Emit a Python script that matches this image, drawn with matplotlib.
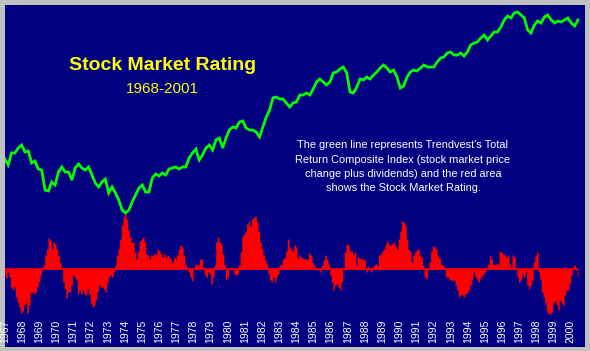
import numpy as np
import matplotlib
matplotlib.use("Agg")
import matplotlib.pyplot as plt
import matplotlib.transforms as mtransforms

# Total return composite index (arbitrary index points)
tr_index = [
    199, 193, 205, 205, 210, 213, 206, 207, 195, 197, 189, 188, 168, 167, 176, 173, 186, 191, 186, 186,
    178, 190, 194, 190, 188, 191, 183, 175, 171, 176, 179, 165, 171, 165, 158, 148, 145, 148, 156, 163,
    170, 173, 166, 166, 180, 184, 182, 185, 183, 189, 190, 191, 189, 191, 191, 200, 205, 209,
    198, 203, 210, 213, 208, 218, 220, 210, 220, 228, 231, 230, 236, 237, 230, 228, 228, 226, 221, 231,
    241, 248, 260, 261, 259, 259, 255, 251, 255, 256, 263, 263, 265, 263, 269, 276, 279, 276, 273, 276,
    285, 286, 289, 291, 285, 266, 265, 271, 279, 278, 281, 279, 283, 286, 290, 293, 290, 286, 288,
    281, 270, 272, 281, 286, 288, 287, 290, 293, 291, 291, 291, 296, 300, 301, 305, 306, 303, 303, 305,
    302, 306, 313, 315, 316, 320, 323, 318, 322, 326, 326, 331, 338, 342, 340, 345, 346, 343, 340, 328,
    325, 333, 337, 335, 341, 343, 338, 335, 337, 336, 338, 340, 335, 332, 338,
]

# Stock market rating (above / below zero)
rating = [
    -6, -9, -3, -8, -18, -21, -18, -28, -33, -38, -44, -42, -36, -34, -44, -36, -24, -23, -25, -23,
    -18, -13, -6, -1, 4, 14, 20, 31, 29, 20, 27, 25, 20, 14, 7, 0, -13, -20, -29, -23,
    -23, -16, -6, -8, -11, -25, -21, -25, -21, -25, -26, -20, -25, -34, -38, -36, -31, -23, -16, -18,
    -18, -20, -23, -13, -8, -6, -8, -3, 4, 14, 20, 30, 44, 52, 57, 50, 39, 32, 27, 27,
    17, 10, 18, 28, 30, 32, 27, 15, 14, 10, 14, 14, 15, 15, 20, 18, 15, 12, 15, 12,
    14, 12, 10, 7, 12, 10, 14, 20, 24, 22, 14, 5, 2, -3, -8, -12, -1, 4,
    5, 4, 10, 10, 0, -6, -8, -3, -5, -15, -8, 4, 27, 32, 27, 25, 15, 4, -11, -8,
    0, 2, 0, -5, -6, -5, 4, 17, 33, 35, 38, 45, 48, 43, 50, 52, 53, 47, 38, 27,
    20, 14, 9, 5, -5, -11, -13, -8, -13, -8, -5, 4, 5, 10, 12, 18, 30, 22, 20, 18,
    24, 22, 10, 14, 12, 11, 10, 10, 10, 16, 14, 7, 4, -1, 0, -1, -3, 4, 9, 14,
    10, 5, -6, -13, -21, -16, -15, -18, -21, -13, -1, 17, 25, 24, 18, 18, 14, 17, 4, 12,
    11, 10, 10, 9, -3, 3, -1, -3, 2, 4, 5, 4, 14, 15, 18, 20, 25, 28, 24,
    24, 25, 27, 23, 20, 30, 38, 48, 47, 44, 30, 20, 18, 7, 14, 17, 19, 20, 14, 12,
    4, -8, -10, -1, 7, 18, 23, 22, 20, 14, 11, 5, 4, 0, -8, -8, -10, -11, -12, -11,
    -16, -21, -28, -26, -26, -28, -25, -24, -21, -16, -11, -3, -8, -10, -13, -10, -7, -5, -3, 0,
    5, 14, 10, 5, 4, 5, 5, 18, 17, 15, 14, 12, 14, 5, -1, 14, 12, 0, -8, -13,
    -11, -5, -8, -3, -16, -20, -16, -11, 7, 14, 17, -3, -11, -23, -28, -34, -42, -45, -45, -43,
    -34, -32, -36, -41, -31, -34, -36, -26, -21, -21, -15, -6, 2, 4, -1, -8,
]

start_year, end_year = 1967.0, 2000.42
year_labels = list(range(1967, 2001))

title = "Stock Market Rating"
subtitle = "1968-2001"
note = ("The green line represents Trendvest's Total\n"
        "Return Composite Index (stock market price\n"
        "change plus dividends) and the red area\n"
        "shows the Stock Market Rating.")

navy = "#000080"
plt.rcParams['font.family'] = ['Liberation Sans', 'DejaVu Sans']

fig = plt.figure(figsize=(5.9, 3.51), dpi=100, facecolor="#c0c0c0")
ax = fig.add_axes([5 / 590, 4 / 351, 580 / 590, 342 / 351])
ax.set_facecolor(navy)

x_red = np.linspace(start_year, end_year, len(rating))
x_green = np.linspace(start_year, end_year, len(tr_index))

ax.fill_between(x_red, 0, rating, step="mid", color="#ff0000", lw=0)
ax.hlines(0, start_year, end_year, color="#ff0000", lw=1.2)
ax.set_xlim(1967.01, 2000.83)
ax.set_ylim(-78, 264)

ax2 = ax.twinx()
ax2.plot(x_green, tr_index, color="#00ff00", lw=2.0, solid_joinstyle="miter")
ax2.set_ylim(11, 353)

for a in (ax, ax2):
    a.set_xticks([])
    a.set_yticks([])
    for s in a.spines.values():
        s.set_visible(False)

# year labels written inside the plot, bottom to top
trans = mtransforms.blended_transform_factory(ax.transData, ax.transAxes)
for yr in year_labels:
    ax2.text(yr, 0.012, str(yr), transform=trans, rotation=90, ha="center", va="bottom",
             color="white", fontsize=7.5, clip_on=False)

fig.text(0.276, 0.812, title, color="#ffff00", fontsize=14, fontweight="bold",
         ha="center", va="center")
fig.text(0.276, 0.746, subtitle, color="#ffff00", fontsize=11, ha="center", va="center")
fig.text(0.683, 0.525, note, color="white", fontsize=7.9, ha="center", va="center",
         linespacing=1.55)

fig.savefig("out.png", dpi=100, facecolor=fig.get_facecolor())
